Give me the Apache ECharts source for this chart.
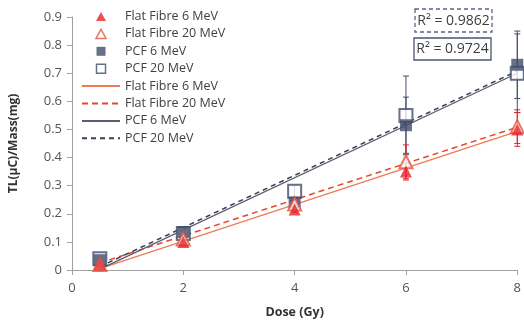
<!DOCTYPE html>
<html><head><meta charset="utf-8">
<script src="https://cdn.jsdelivr.net/npm/echarts@6/dist/echarts.min.js"></script>
<style>html,body{margin:0;padding:0;background:#fff}#c{width:524px;height:325px}</style>
</head><body><div id="c"></div>
<script>
var dose = [0.5, 2, 4, 6, 8];
var ff6 = [0.02, 0.10, 0.215, 0.35, 0.50];
var ff20 = [0.02, 0.11, 0.235, 0.385, 0.51];
var pcf6 = [0.035, 0.135, 0.24, 0.515, 0.73];
var pcf20 = [0.04, 0.13, 0.28, 0.55, 0.70];
var ff6Err = [0.003, 0.01, 0.01, 0.03, 0.06];
var ff20Err = [0.003, 0.01, 0.01, 0.06, 0.06];
var pcf6Err = [0.005, 0.01, 0.02, 0.10, 0.12];
var pcf20Err = [0.005, 0.01, 0.02, 0.14, 0.14];
var fitX = [0.5, 8];
var ff6Fit = [0.005, 0.493];
var ff20Fit = [0.025, 0.508];
var pcf6Fit = [0.003, 0.70];
var pcf20Fit = [0.012, 0.708];
var yTicks = [0, 0.1, 0.2, 0.3, 0.4, 0.5, 0.6, 0.7, 0.8, 0.9];
var xTicks = [0, 2, 4, 6, 8];
var r2Labels = ['R² = 0.9862', 'R² = 0.9724'];

var RED = '#e5242b', ORED = '#e5533a', NAVY = '#414c6b';
function pts(ys){ return dose.map(function(d,i){ return [d, ys[i]]; }); }
function fit(ys){ return fitX.map(function(d,i){ return [d, ys[i]]; }); }
function errData(ys, es){ return dose.map(function(d,i){ return [d, ys[i]-es[i], ys[i]+es[i]]; }); }
function errSeries(ys, es, color){
  return {
    type:'custom', name:'err', z:1, silent:true,
    data: errData(ys, es),
    renderItem: function(params, api){
      var x = api.value(0);
      var lo = api.coord([x, api.value(1)]);
      var hi = api.coord([x, api.value(2)]);
      var w = 3;
      var st = {stroke: color, lineWidth: 1};
      return {type:'group', children:[
        {type:'line', shape:{x1:lo[0], y1:lo[1], x2:hi[0], y2:hi[1]}, style:st},
        {type:'line', shape:{x1:lo[0]-w, y1:lo[1], x2:lo[0]+w, y2:lo[1]}, style:st},
        {type:'line', shape:{x1:hi[0]-w, y1:hi[1], x2:hi[0]+w, y2:hi[1]}, style:st}
      ]};
    }
  };
}
var chart = echarts.init(document.getElementById('c'));
var font = 'Open Sans, Noto Sans, sans-serif';
var hide = {color:'rgba(0,0,0,0)', borderWidth:0, opacity:0};
var triIcon = 'path://M5,0L10,9L0,9Z';
var sqIcon = 'path://M0,0L9,0L9,9L0,9Z';
chart.setOption({
  animation:false,
  textStyle:{fontFamily:font},
  grid:{left:69, right:3, top:17, bottom:55},
  legend:{
    orient:'vertical', left:76, top:5, itemWidth:38, itemHeight:9, itemGap:4.4,
    symbolKeepAspect:true,
    textStyle:{fontSize:12.5, lineHeight:13, color:'#404040', fontFamily:font},
    data:[
      {name:'Flat Fibre 6 MeV', icon:triIcon},
      {name:'Flat Fibre 20 MeV', icon:triIcon, itemStyle:{borderWidth:1.5}},
      {name:'PCF 6 MeV', icon:sqIcon},
      {name:'PCF 20 MeV', icon:sqIcon, itemStyle:{borderWidth:1.5}},
      {name:'Flat Fibre 6 MeV ', itemStyle:hide},
      {name:'Flat Fibre 20 MeV ', itemStyle:hide},
      {name:'PCF 6 MeV ', itemStyle:hide},
      {name:'PCF 20 MeV ', itemStyle:hide}]
  },
  xAxis:{
    type:'value', min:0, max:8, interval:2,
    name:'Dose (Gy)', nameLocation:'middle', nameGap:36,
    nameTextStyle:{fontSize:12.5, fontWeight:'bold', color:'#333', fontFamily:font},
    axisLine:{lineStyle:{color:'#a0a0a0'}},
    axisTick:{show:true, length:5, lineStyle:{color:'#a0a0a0'}},
    axisLabel:{fontSize:13, color:'#555', margin:12,
      formatter:function(v){ return xTicks.indexOf(v)>=0 ? String(v) : ''; }},
    splitLine:{show:false}
  },
  yAxis:{
    type:'value', min:0, max:0.9, interval:0.1,
    name:'TL(μC)/Mass(mg)', nameLocation:'middle', nameGap:52, nameRotate:90,
    nameTextStyle:{fontSize:12, fontWeight:'bold', color:'#333', fontFamily:font},
    axisLine:{show:true, lineStyle:{color:'#a0a0a0'}},
    axisTick:{show:true, length:5, lineStyle:{color:'#a0a0a0'}},
    axisLabel:{fontSize:13, color:'#555', margin:10,
      formatter:function(v){ var r=Math.round(v*10)/10; return yTicks.indexOf(r)>=0 ? String(r) : ''; }},
    splitLine:{show:false}
  },
  graphic:[
    {type:'rect', shape:{x:415, y:9, width:77, height:23}, style:{fill:'#fff', stroke:'#5a6480', lineWidth:1.3, lineDash:[4,3]}, z:100},
    {type:'text', x:453.5, y:21, style:{text:r2Labels[0], fontSize:14, fill:'#404040', align:'center', verticalAlign:'middle', fontFamily:font}, z:101},
    {type:'rect', shape:{x:414, y:38, width:77, height:22}, style:{fill:'#fff', stroke:'#4a5570', lineWidth:1.3}, z:100},
    {type:'text', x:452.5, y:49.5, style:{text:r2Labels[1], fontSize:14, fill:'#404040', align:'center', verticalAlign:'middle', fontFamily:font}, z:101}
  ],
  series:[
    errSeries(pcf6, pcf6Err, NAVY),
    errSeries(pcf20, pcf20Err, NAVY),
    errSeries(ff6, ff6Err, RED),
    errSeries(ff20, ff20Err, RED),
    {name:'Flat Fibre 6 MeV ', type:'line', data:fit(ff6Fit), symbol:'none', z:2, lineStyle:{color:'#ef7a55', width:1.3}, itemStyle:{color:'#ef7a55'}},
    {name:'Flat Fibre 20 MeV ', type:'line', data:fit(ff20Fit), symbol:'none', z:2, lineStyle:{color:'#e8472e', width:1.5, type:[6,4]}, itemStyle:{color:'#e8472e'}},
    {name:'PCF 6 MeV ', type:'line', data:fit(pcf6Fit), symbol:'none', z:2, lineStyle:{color:'#5a5e6e', width:1.3}, itemStyle:{color:'#5a5e6e'}},
    {name:'PCF 20 MeV ', type:'line', data:fit(pcf20Fit), symbol:'none', z:2, lineStyle:{color:'#3a3f55', width:1.5, type:[5,4]}, itemStyle:{color:'#3a3f55'}},
    {name:'PCF 20 MeV', type:'scatter', data:pts(pcf20), symbol:'rect', symbolSize:13, z:3, itemStyle:{color:'#fff', borderColor:NAVY, borderWidth:2}},
    {name:'PCF 6 MeV', type:'scatter', data:pts(pcf6), symbol:'rect', symbolSize:12, z:4, itemStyle:{color:NAVY}},
    {name:'Flat Fibre 20 MeV', type:'scatter', data:pts(ff20), symbol:'triangle', symbolSize:13, z:5, itemStyle:{color:'#fff', borderColor:ORED, borderWidth:2}},
    {name:'Flat Fibre 6 MeV', type:'scatter', data:pts(ff6), symbol:'triangle', symbolSize:12, z:6, itemStyle:{color:RED}}
  ]
});
</script></body></html>
